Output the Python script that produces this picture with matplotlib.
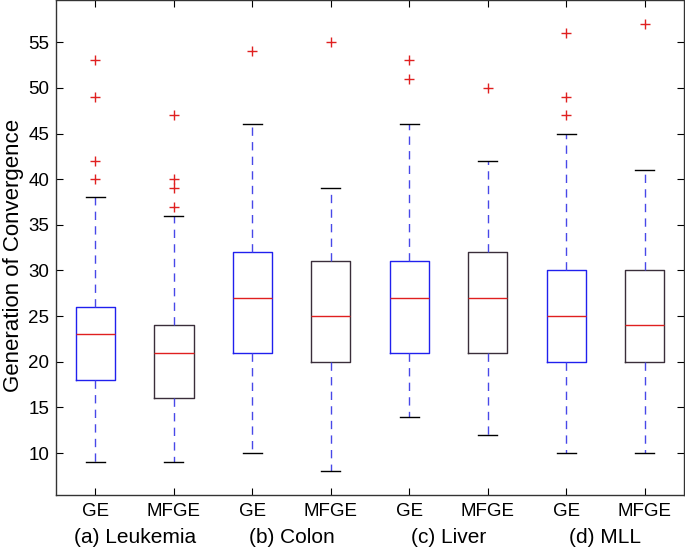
import matplotlib
matplotlib.use("Agg")
import matplotlib.pyplot as plt

plt.rcParams["font.family"] = ["Liberation Sans", "DejaVu Sans"]

# Values
labels = ["GE", "MFGE", "GE", "MFGE", "GE", "MFGE", "GE", "MFGE"]
groups = ["(a) Leukemia", "(b) Colon", "(c) Liver", "(d) MLL"]
whislo = [9, 9, 10, 8, 14, 12, 10, 10]
q1 = [18, 16, 21, 20, 21, 21, 20, 20]
med = [23, 21, 27, 25, 27, 27, 25, 24]
q3 = [26, 24, 32, 31, 31, 32, 30, 30]
whishi = [38, 36, 46, 39, 46, 42, 45, 41]
fliers = [
    [40, 42, 49, 53],
    [37, 39, 40, 47],
    [54],
    [55],
    [51, 53],
    [50],
    [47, 49, 56],
    [57],
]

stats = []
for i in range(len(labels)):
    stats.append({"whislo": whislo[i], "q1": q1[i], "med": med[i],
                  "q3": q3[i], "whishi": whishi[i], "fliers": fliers[i]})

fig = plt.figure(figsize=(6.85, 5.51), dpi=100)
ax = fig.add_axes([0.082, 0.1016, 0.9165, 0.898])

positions = list(range(1, len(labels) + 1))
bp = ax.bxp(stats, positions=positions, widths=0.5, showfliers=True,
            boxprops=dict(linewidth=1.0),
            whiskerprops=dict(color="#4848e8", linestyle=(0, (6, 4.5)), linewidth=1.0),
            capprops=dict(color="black", linewidth=1.0),
            medianprops=dict(color="#e02020", linewidth=1.0),
            flierprops=dict(marker="+", markeredgecolor="#e02020", markersize=7,
                            linestyle="none", markeredgewidth=1.0))
for i, box in enumerate(bp["boxes"]):
    box.set_color("#2020ee" if i % 2 == 0 else "#3a2e3a")
for cap in bp["caps"]:
    x = cap.get_xdata()
    c = (x[0] + x[1]) / 2
    cap.set_xdata([c - 0.12, c + 0.12])

ax.set_xlim(0.5, 8.5)
ax.set_ylim(5.4, 59.6)
ax.set_yticks(range(10, 60, 5))
ax.set_xticks(positions)
ax.set_xticklabels(labels)
ax.tick_params(direction="in", top=True, right=True, length=5, labelsize=13.5, pad=6)
ax.tick_params(axis="y", pad=5)
ax.set_ylabel("Generation of Convergence", fontsize=16, labelpad=3, y=0.484)
for s in ax.spines.values():
    s.set_linewidth(1.0)
    s.set_color("#333333")

for k, g in enumerate(groups):
    ax.text(1.5 + 2 * k, -0.066, g, transform=ax.get_xaxis_transform(),
            ha="center", va="top", fontsize=15)

fig.savefig("out.png", dpi=100)
